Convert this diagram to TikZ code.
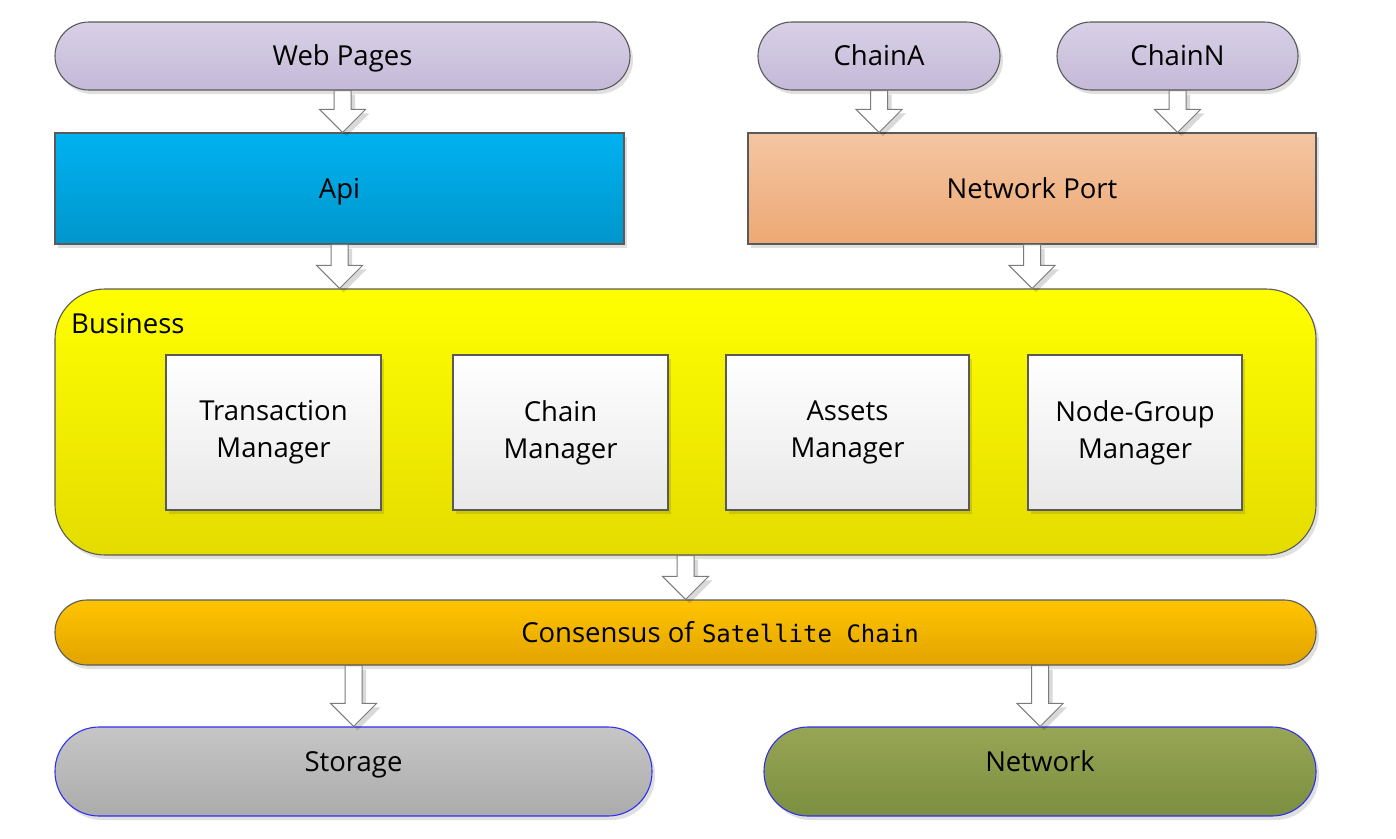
\documentclass[tikz,border=0pt]{standalone}
\usepackage{fontspec}
\setmainfont{Open Sans}
\setmonofont{DejaVu Sans Mono}
\usetikzlibrary{calc,shadows}
\definecolor{lavT}{HTML}{D8D0E6}
\definecolor{lavB}{HTML}{C4B9D8}
\definecolor{apiT}{HTML}{00B2F0}
\definecolor{apiB}{HTML}{0096CC}
\definecolor{npT}{HTML}{F4C6A2}
\definecolor{npB}{HTML}{EDA874}
\definecolor{busT}{HTML}{FFFF00}
\definecolor{busB}{HTML}{E4DC00}
\definecolor{inT}{HTML}{FFFFFF}
\definecolor{inB}{HTML}{E8E8E8}
\definecolor{conT}{HTML}{FFC400}
\definecolor{conB}{HTML}{E2A400}
\definecolor{stT}{HTML}{C6C6C6}
\definecolor{stB}{HTML}{ABABAB}
\definecolor{nwT}{HTML}{97A655}
\definecolor{nwB}{HTML}{7C8E40}
\definecolor{edge}{HTML}{5A5A5A}
\definecolor{blueedge}{HTML}{3030F0}
\newcommand\blockarrow[2]{%
  \draw[blockarr] let \p1=(#1), \p2=(#2) in
    (\x1-8.5pt,\y1) -- (\x1+8.5pt,\y1) -- (\x1+8.5pt,\y2+23pt) -- (\x1+23pt,\y2+23pt)
    -- (\x1,\y2) -- (\x1-23pt,\y2+23pt) -- (\x1-8.5pt,\y2+23pt) -- cycle;}
\begin{document}
\begin{tikzpicture}[x=1pt,y=-1pt,
  every node/.style={font=\fontsize{27.5}{33}\selectfont, text=black},
  one/.style={text height=23pt, text depth=4pt},
  shad/.style={drop shadow={shadow xshift=3pt,shadow yshift=-4pt,fill=black,opacity=0.12}},
  base/.style={draw=edge, line width=1.1pt, shad, align=center, inner sep=0pt},
  pill/.style={base, rectangle, rounded corners=#1},
  lav/.style={pill=34pt, one, top color=lavT, bottom color=lavB, minimum height=68pt},
  sq/.style={base, one, rectangle, minimum height=111pt},
  inner/.style={base, rectangle, top color=inT, bottom color=inB, minimum height=155pt},
  blockarr/.style={draw=edge!80, line width=1pt, fill=white, line join=miter,
     drop shadow={shadow xshift=4pt,shadow yshift=-4pt,fill=black,opacity=0.15}}
]
\useasboundingbox (0,0) rectangle (1396,838);

\node[lav, minimum width=575pt] (web) at (342.5,56) {Web Pages};
\node[lav, minimum width=242pt] (chainA) at (879,56) {ChainA};
\node[lav, minimum width=241pt] (chainN) at (1177.5,56) {ChainN};

\node[sq, top color=apiT, bottom color=apiB, minimum width=569pt] (api) at (339.5,188.5) {Api};
\node[sq, top color=npT, bottom color=npB, minimum width=568pt] (np) at (1032,188.5) {Network Port};

\node[pill=50pt, top color=busT, bottom color=busB, minimum width=1261pt, minimum height=266pt] (bus) at (685.5,422) {};
\node[anchor=west, inner sep=0pt, one] (buslabel) at (71,324) {Business};

\node[inner, minimum width=215pt] (tm) at (273.5,432.5) {Transaction\\[4pt]Manager};
\node[inner, minimum width=215pt] (cm) at (560.5,432.5) {Chain\\[4pt]Manager};
\node[inner, minimum width=243pt] (am) at (847.5,432.5) {Assets\\[4pt]Manager};
\node[inner, minimum width=214pt] (ng) at (1135,432.5) {Node-Group\\[4pt]Manager};

\node[pill=32pt, top color=conT, bottom color=conB, minimum width=1261pt, minimum height=65pt] (con) at (685.5,632.5) {};
\node[one, inner sep=0pt] (conlabel) at (720,632.5) {Consensus of \texttt{\fontsize{24}{29}\selectfont Satellite Chain}};

\node[pill=44pt, draw=blueedge, top color=stT, bottom color=stB, minimum width=597pt, minimum height=89pt] (st) at (353.5,771.5) {};
\node[pill=44pt, draw=blueedge, top color=nwT, bottom color=nwB, minimum width=552pt, minimum height=89pt] (nw) at (1040,771.5) {};
\node[one, inner sep=0pt] (stlabel) at ($(st.center)+(0,-10)$) {Storage};
\node[one, inner sep=0pt] (nwlabel) at ($(nw.center)+(0,-10)$) {Network};

\blockarrow{web.south}{web.south |- api.north}
\blockarrow{chainA.south}{chainA.south |- np.north}
\blockarrow{chainN.south}{chainN.south |- np.north}
\blockarrow{api.south}{api.south |- bus.north}
\blockarrow{np.south}{np.south |- bus.north}
\blockarrow{bus.south}{con.north}
\blockarrow{st.north |- con.south}{st.north}
\blockarrow{nw.north |- con.south}{nw.north}
\end{tikzpicture}
\end{document}
